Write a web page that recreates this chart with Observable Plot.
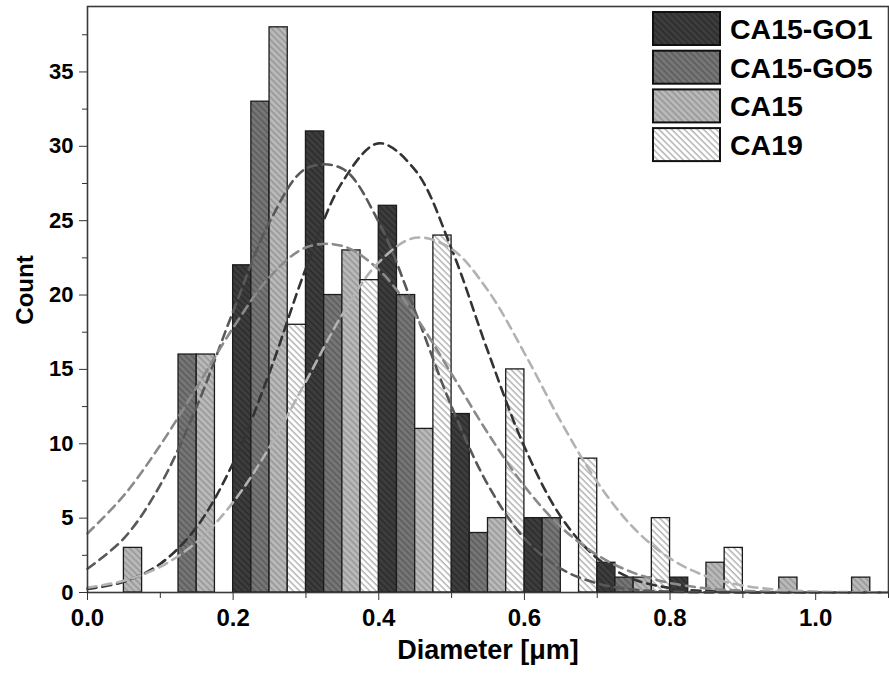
<!DOCTYPE html>
<html><head><meta charset="utf-8">
<script src="https://cdn.jsdelivr.net/npm/d3@7"></script>
<script src="https://cdn.jsdelivr.net/npm/@observablehq/plot@0.6"></script>
<style>body{margin:0;background:#fff} svg{display:block;background:#fff}</style>
</head><body><div id="chart"></div><script>
// ---- data ----
const series = ["CA15-GO1", "CA15-GO5", "CA15", "CA19"];
const binStarts = [0.0, 0.1, 0.2, 0.3, 0.4, 0.5, 0.6, 0.7, 0.8, 0.9, 1.0];
const countsGO1  = [0, 0, 22, 31, 26, 12, 5, 2, 1, 0, 0];
const countsGO5  = [0, 16, 33, 20, 20, 4, 5, 1, 0, 0, 0];
const countsCA15 = [3, 16, 38, 23, 11, 5, 0, 1, 2, 1, 1];
const countsCA19 = [0, 0, 18, 21, 24, 15, 9, 5, 3, 0, 0];

// fitted (dashed) curves
const curveX   = [0, 0.05, 0.1, 0.15, 0.2, 0.25, 0.3, 0.35, 0.4, 0.45, 0.5, 0.55, 0.6, 0.65, 0.7, 0.75, 0.8, 0.85, 0.9, 0.95, 1.0, 1.05, 1.1];
const fitGO1   = [0.24, 0.72, 1.93, 4.41, 8.71, 14.8, 21.8, 27.6, 30.2, 28.4, 23.1, 16.2, 9.8, 5.1, 2.3, 0.89, 0.30, 0.09, 0.02, 0, 0, 0, 0];
const fitGO5   = [1.60, 3.64, 7.23, 12.5, 18.9, 24.9, 28.5, 28.5, 24.9, 18.9, 12.5, 7.23, 3.64, 1.60, 0.61, 0.20, 0.06, 0.01, 0, 0, 0, 0, 0];
const fitCA15  = [3.97, 6.53, 9.91, 13.8, 17.8, 21.2, 23.2, 23.3, 21.7, 18.6, 14.7, 10.7, 7.15, 4.41, 2.52, 1.32, 0.64, 0.28, 0.12, 0.04, 0.01, 0, 0];
const fitCA19  = [0.33, 0.79, 1.73, 3.40, 6.07, 9.77, 14.2, 18.7, 22.2, 23.85, 23.1, 20.3, 16.1, 11.5, 7.43, 4.34, 2.29, 1.09, 0.47, 0.18, 0.06, 0.02, 0];

const xTicks = [0.0, 0.2, 0.4, 0.6, 0.8, 1.0];
const xMinor = [0.1, 0.3, 0.5, 0.7, 0.9, 1.1];
const yTicks = [0, 5, 10, 15, 20, 25, 30, 35];
const yMinor = [2.5, 7.5, 12.5, 17.5, 22.5, 27.5, 32.5, 37.5];
const xTitle = "Diameter [μm]";
const yTitle = "Count";

// ---- styling ----
const patFill  = ["#3d3d3d", "#767676", "#b9b9b9", "#ffffff"];
const patLine  = ["#252525", "#525252", "#8a8a8a", "#9a9a9a"];
const curveCol = ["#333333", "#585858", "#8a8a8a", "#b2b2b2"];
const slots = series.length;
const binW = 0.1;

const countsBySeries = [countsGO1, countsGO5, countsCA15, countsCA19];
const bars = [];
countsBySeries.forEach((counts, i) => counts.forEach((c, j) => {
  if (c > 0) bars.push({series: series[i], i, x1: binStarts[j] + i * binW / slots, x2: binStarts[j] + (i + 1) * binW / slots, y: c});
}));
const fits = [fitGO1, fitGO5, fitCA15, fitCA19];
const curves = fits.map((ys, i) => ys.map((y, k) => ({series: series[i], x: curveX[k], y})));

const font = "'Liberation Sans', Arial, sans-serif";
const plot = Plot.plot({
  width: 889, height: 681,
  marginLeft: 87, marginRight: 1, marginTop: 6, marginBottom: 89,
  style: {fontFamily: font, fontWeight: "bold", color: "#000", background: "#fff"},
  x: {domain: [0, 1.1]},
  y: {domain: [0, 39.4]},
  marks: [
    ...series.map((s, i) => Plot.rect(bars.filter(d => d.i === i), {
      x1: "x1", x2: "x2", y1: () => 0, y2: "y",
      fill: `url(#hatch${i})`, stroke: "#1c1c1c", strokeWidth: 1.3
    })),
    ...series.map((s, i) => Plot.line(curves[i], {
      x: "x", y: "y", stroke: curveCol[i], strokeWidth: 2.6,
      strokeDasharray: "9,6", curve: "catmull-rom"
    })),
    Plot.frame({stroke: "#3a3a3a", strokeWidth: 1.6}),
    Plot.axisX({ticks: xTicks, tickSize: 8, tickPadding: 8, tickFormat: d3.format(".1f"), fontSize: 24, fontWeight: "bold", label: null, stroke: "#333"}),
    Plot.axisX({ticks: xMinor, tickSize: 6, tickFormat: () => "", label: null, stroke: "#333"}),
    Plot.axisY({ticks: yTicks, tickSize: 8, tickPadding: 6, fontSize: 22, fontWeight: "bold", label: null, stroke: "#333"}),
    Plot.axisY({ticks: yMinor, tickSize: 5, tickFormat: () => "", label: null, stroke: "#333"}),
    Plot.text([xTitle], {frameAnchor: "bottom", dy: 66, fontSize: 27, fontWeight: "bold", fill: "#000"})
  ]
});
document.getElementById("chart").appendChild(plot);

const svg = d3.select(plot);

// y-axis title (rotated)
svg.append("text").attr("transform", "translate(24,290) rotate(-90)")
  .attr("text-anchor", "middle").attr("dominant-baseline", "central")
  .attr("font-family", font).attr("font-weight", "bold").attr("font-size", 24).attr("fill", "#000").text(yTitle);

// hatch patterns
const defs = svg.insert("defs", ":first-child");
series.forEach((s, i) => {
  const p = defs.append("pattern").attr("id", `hatch${i}`).attr("patternUnits", "userSpaceOnUse")
    .attr("width", 4.5).attr("height", 4.5).attr("patternTransform", "rotate(-45)");
  p.append("rect").attr("width", 4.5).attr("height", 4.5).attr("fill", patFill[i]);
  p.append("line").attr("x1", 1).attr("x2", 1).attr("y1", 0).attr("y2", 4.5)
    .attr("stroke", patLine[i]).attr("stroke-width", 1.1);
});

// legend (top-right, inside the frame)
const leg = svg.append("g").attr("font-family", font).attr("font-weight", "bold").attr("text-anchor", "start");
series.forEach((s, i) => {
  const top = 12 + i * 38.7;
  leg.append("rect").attr("x", 653).attr("y", top).attr("width", 67).attr("height", 33)
    .attr("fill", `url(#hatch${i})`).attr("stroke", "#111").attr("stroke-width", 2);
  leg.append("text").attr("x", 730).attr("y", top + 27).attr("font-size", 28.5)
    .attr("text-anchor", "start").attr("fill", "#000").text(s);
});
</script></body></html>
